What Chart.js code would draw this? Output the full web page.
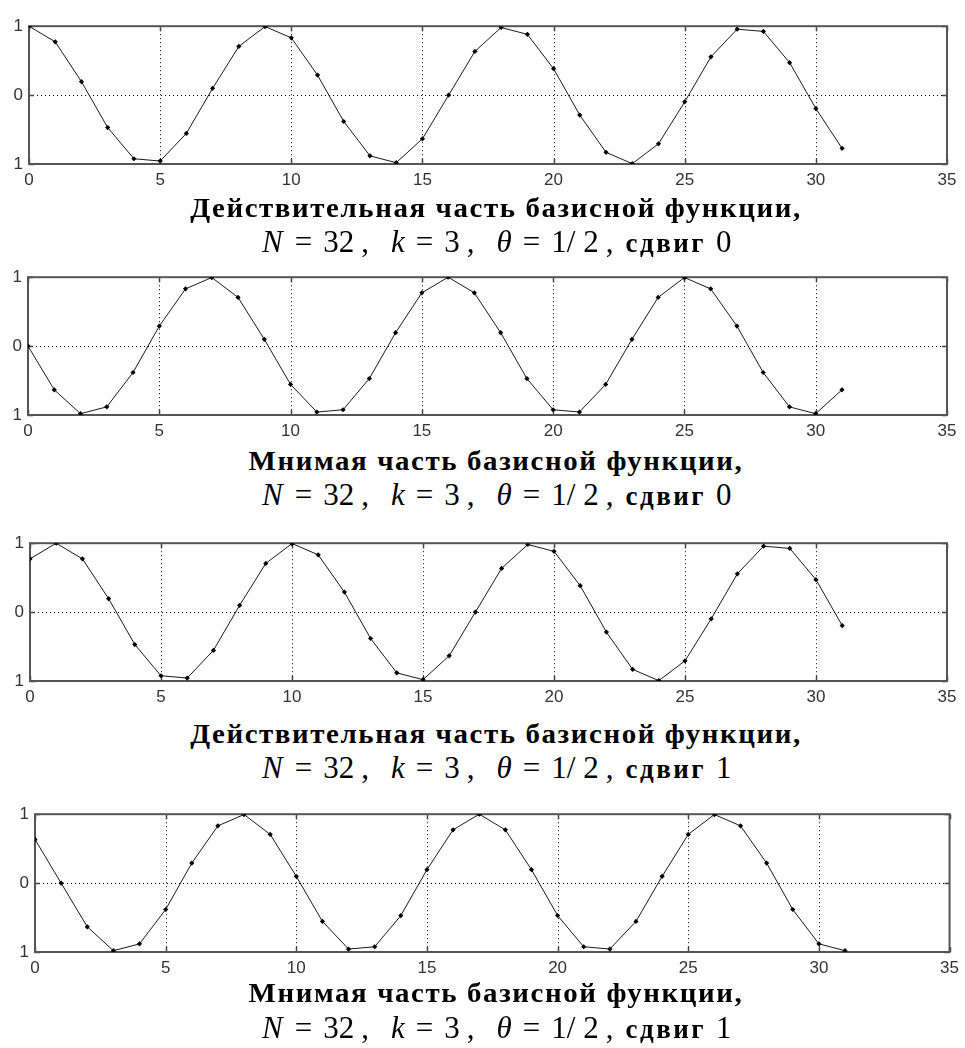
<!DOCTYPE html>
<html>
<head>
<meta charset="utf-8">
<script src="https://cdn.jsdelivr.net/npm/chart.js@4.4.1/dist/chart.umd.min.js"></script>
<style>
  html, body { margin: 0; padding: 0; background: #fff; }
  #page { position: relative; width: 965px; height: 1048px; overflow: hidden; background: #fff; }
  canvas { position: absolute; left: 0; }
  .cap { position: absolute; white-space: nowrap; color: #000; line-height: 1;
         font-family: "Liberation Serif", "Times New Roman", serif; }
  .l1 { left: 496px; font-weight: bold; font-size: 27px; letter-spacing: 1.5px;
        transform: translateX(-50%) scaleX(1.07); transform-origin: center; }
  .l2 { left: 262px; font-size: 31px; }
  .l2 span { display: inline-block; }
  .l2 .it { font-style: italic; }
  .l2 .bd { font-size: 27px; font-weight: bold; letter-spacing: 2.5px; }
</style>
</head>
<body>
<div id="page">
  <canvas id="c0" width="965" height="184"></canvas>
  <canvas id="c1" width="965" height="184"></canvas>
  <canvas id="c2" width="965" height="184"></canvas>
  <canvas id="c3" width="965" height="184"></canvas>
</div>
<script>
// Sample index n of the discrete basis function
const sampleIndex = [0, 1, 2, 3, 4, 5, 6, 7, 8, 9, 10, 11, 12, 13, 14, 15,
                     16, 17, 18, 19, 20, 21, 22, 23, 24, 25, 26, 27, 28, 29, 30, 31];

// Real part, shift 0
const realShift0 = [1.000, 0.773, 0.195, -0.471, -0.924, -0.957, -0.556, 0.098,
                    0.707, 0.995, 0.831, 0.290, -0.383, -0.882, -0.981, -0.634,
                    0.000, 0.634, 0.981, 0.882, 0.383, -0.290, -0.831, -0.995,
                    -0.707, -0.098, 0.556, 0.957, 0.924, 0.471, -0.195, -0.773];

// Imaginary part, shift 0
const imagShift0 = [0.000, -0.634, -0.981, -0.882, -0.383, 0.290, 0.831, 0.995,
                    0.707, 0.098, -0.556, -0.957, -0.924, -0.471, 0.195, 0.773,
                    1.000, 0.773, 0.195, -0.471, -0.924, -0.957, -0.556, 0.098,
                    0.707, 0.995, 0.831, 0.290, -0.383, -0.882, -0.981, -0.634];

// Real part, shift 1
const realShift1 = [0.773, 1.000, 0.773, 0.195, -0.471, -0.924, -0.957, -0.556,
                    0.098, 0.707, 0.995, 0.831, 0.290, -0.383, -0.882, -0.981,
                    -0.634, 0.000, 0.634, 0.981, 0.882, 0.383, -0.290, -0.831,
                    -0.995, -0.707, -0.098, 0.556, 0.957, 0.924, 0.471, -0.195];

// Imaginary part, shift 1
const imagShift1 = [0.634, 0.000, -0.634, -0.981, -0.882, -0.383, 0.290, 0.831,
                    0.995, 0.707, 0.098, -0.556, -0.957, -0.924, -0.471, 0.195,
                    0.773, 1.000, 0.773, 0.195, -0.471, -0.924, -0.957, -0.556,
                    0.098, 0.707, 0.995, 0.831, 0.290, -0.383, -0.882, -0.981];

// Axis ticks
const xTickValues = [0, 5, 10, 15, 20, 25, 30, 35];
const yTickValues = [-1, 0, 1];
const yTickLabels = ['1', '0', '1'];

// Captions under each panel
const captionTitles = ['Действительная часть базисной функции,',
                       'Мнимая часть базисной функции,',
                       'Действительная часть базисной функции,',
                       'Мнимая часть базисной функции,'];
const captionShifts = ['0', '0', '1', '1'];

// Parameter line: [text, css class, space after in px]
const paramTokens = [
  ['N', 'it', 12], ['=', '', 11], ['32', '', 7], [',', '', 22],
  ['k', 'it', 11], ['=', '', 11], ['3', '', 7], [',', '', 22],
  ['θ', 'it', 11], ['=', '', 11], ['1/', '', 8], ['2', '', 7],
  [',', '', 12], ['сдвиг', 'bd', 10]
];

const panels = [
  { values: realShift0, left: 29, right: 947, top: 20,  base1: 218,  base2: 252 },
  { values: imagShift0, left: 28, right: 947, top: 271, base1: 471,  base2: 505 },
  { values: realShift1, left: 30, right: 947, top: 537, base1: 744,  base2: 778 },
  { values: imagShift1, left: 35, right: 952, top: 808, base1: 1003, base2: 1038 }
];
const topPad = 10;
const xAxisHeight = 30;
const tickFont = { family: '"Liberation Sans", Arial, sans-serif', size: 17 };

// Frame, dotted grid and inward tick marks
const framePlugin = {
  id: 'frame',
  beforeDatasetsDraw(chart) {
    const { ctx, chartArea: a, scales: { x, y } } = chart;
    ctx.save();
    ctx.strokeStyle = '#000';
    ctx.lineWidth = 1;
    ctx.setLineDash([1, 3]);
    xTickValues.slice(1, -1).forEach(v => {
      const px = Math.round(x.getPixelForValue(v)) + 0.5;
      ctx.beginPath(); ctx.moveTo(px, a.top); ctx.lineTo(px, a.bottom); ctx.stroke();
    });
    const py0 = Math.round(y.getPixelForValue(0)) + 0.5;
    ctx.beginPath(); ctx.moveTo(a.left, py0); ctx.lineTo(a.right, py0); ctx.stroke();
    ctx.setLineDash([]);
    ctx.strokeStyle = '#444';
    ctx.lineWidth = 1.5;
    xTickValues.forEach(v => {
      const px = Math.round(x.getPixelForValue(v)) + 0.5;
      ctx.beginPath(); ctx.moveTo(px, a.top); ctx.lineTo(px, a.top + 5);
      ctx.moveTo(px, a.bottom); ctx.lineTo(px, a.bottom - 5); ctx.stroke();
    });
    yTickValues.forEach(v => {
      const py = Math.round(y.getPixelForValue(v)) + 0.5;
      ctx.beginPath(); ctx.moveTo(a.left, py); ctx.lineTo(a.left + 5, py);
      ctx.moveTo(a.right, py); ctx.lineTo(a.right - 5, py); ctx.stroke();
    });
    ctx.strokeStyle = '#555';
    ctx.lineWidth = 2;
    ctx.strokeRect(a.left, a.top, a.right - a.left, a.bottom - a.top);
    ctx.restore();
  }
};

const page = document.getElementById('page');

panels.forEach((p, i) => {
  const canvas = document.getElementById('c' + i);
  canvas.style.top = (p.top - topPad) + 'px';
  new Chart(canvas, {
    type: 'line',
    data: {
      datasets: [{
        data: p.values.map((v, k) => ({ x: sampleIndex[k], y: v })),
        borderColor: '#1a1a1a',
        borderWidth: 1,
        backgroundColor: '#000',
        pointStyle: 'rectRot',
        pointRadius: 2.6,
        pointBorderWidth: 0,
        tension: 0
      }]
    },
    options: {
      responsive: false,
      animation: false,
      devicePixelRatio: 1,
      layout: { padding: { left: 0, right: 965 - p.right, top: topPad, bottom: 0 } },
      plugins: { legend: { display: false }, tooltip: { enabled: false } },
      scales: {
        x: {
          type: 'linear', min: 0, max: 35,
          grid: { display: false, drawTicks: false }, border: { display: false },
          afterBuildTicks: s => { s.ticks = xTickValues.map(v => ({ value: v })); },
          afterFit: s => { s.height = xAxisHeight; },
          ticks: { padding: 6, color: '#333', maxRotation: 0, font: tickFont }
        },
        y: {
          type: 'linear', min: -1, max: 1,
          grid: { display: false, drawTicks: false }, border: { display: false },
          afterBuildTicks: s => { s.ticks = yTickValues.map(v => ({ value: v })); },
          afterFit: s => { s.width = p.left; },
          ticks: { padding: 6, color: '#333', font: tickFont,
                   callback: v => yTickLabels[yTickValues.indexOf(v)] }
        }
      }
    },
    plugins: [framePlugin]
  });

  // caption line 1 (bold title)
  const c1 = document.createElement('div');
  c1.className = 'cap l1';
  c1.style.top = (p.base1 - 0.8375 * 27) + 'px';
  c1.textContent = captionTitles[i];
  page.appendChild(c1);

  // caption line 2 (parameters)
  const c2 = document.createElement('div');
  c2.className = 'cap l2';
  c2.style.top = (p.base2 - 0.8375 * 31) + 'px';
  paramTokens.concat([[captionShifts[i], '', 0]]).forEach(([t, cls, gap]) => {
    const s = document.createElement('span');
    if (cls) s.className = cls;
    s.style.marginRight = gap + 'px';
    s.textContent = t;
    c2.appendChild(s);
  });
  page.appendChild(c2);
});
</script>
</body>
</html>
